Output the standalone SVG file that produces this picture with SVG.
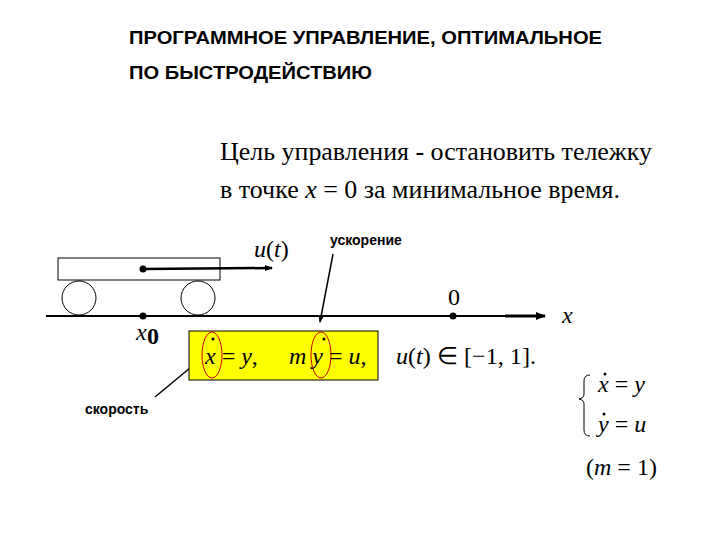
<svg xmlns="http://www.w3.org/2000/svg" width="720" height="540" viewBox="0 0 720 540">
<style>
.h{font-family:"Liberation Sans",Arial,sans-serif;font-weight:bold;font-size:18px}
.s{font-family:"Liberation Sans",Arial,sans-serif;font-weight:bold;font-size:14px}
.t{font-family:"Liberation Serif","Times New Roman",serif;font-size:26px}
.m{font-family:"Liberation Serif","Times New Roman",serif;font-size:24px}
.i{font-style:italic}
.ln{stroke:#000;fill:none}
</style>
<defs>
<marker id="a" markerWidth="10" markerHeight="8" refX="9" refY="4" orient="auto" markerUnits="userSpaceOnUse"><path d="M0,0 L10,4 L0,8z"/></marker>
<marker id="b" markerWidth="8" markerHeight="6" refX="7" refY="3" orient="auto" markerUnits="userSpaceOnUse"><path d="M0,0 L8,3 L0,6z"/></marker>
</defs>
<rect width="720" height="540" fill="#fff"/>
<text class="h" x="129" y="44" textLength="473" lengthAdjust="spacingAndGlyphs">ПРОГРАММНОЕ УПРАВЛЕНИЕ, ОПТИМАЛЬНОЕ</text>
<text class="h" x="129" y="79" textLength="243" lengthAdjust="spacingAndGlyphs">ПО БЫСТРОДЕЙСТВИЮ</text>
<text class="t" x="220" y="160" textLength="432" lengthAdjust="spacingAndGlyphs">Цель управления - остановить тележку</text>
<text class="t" x="220" y="198" textLength="400" lengthAdjust="spacingAndGlyphs">в точке <tspan class="i">x</tspan> = 0 за минимальное время.</text>
<g id="cart">
<rect x="58" y="258" width="162" height="22" fill="#fff" stroke="#000"/>
<circle cx="79" cy="298" r="17" fill="none" stroke="#000"/>
<circle cx="198" cy="298" r="17" fill="none" stroke="#000"/>
<circle cx="143" cy="269" r="3.5"/>
</g>
<g id="connectors">
<line class="ln" x1="143" y1="269" x2="272" y2="268" stroke-width="2.5"/>
<line class="ln" x1="262" y1="268" x2="272" y2="268" stroke-width="2" marker-end="url(#b)"/>
<line class="ln" x1="46" y1="316" x2="545" y2="316" stroke-width="2"/>
<line class="ln" x1="505" y1="316" x2="545" y2="316" stroke-width="3" marker-end="url(#a)"/>
<line class="ln" x1="333" y1="254" x2="320" y2="322" stroke-width="1.5" marker-end="url(#b)"/>
<line class="ln" x1="155" y1="397" x2="196" y2="363" stroke-width="1.5" marker-end="url(#b)"/>
</g>
<circle cx="143" cy="316" r="3.5"/>
<circle cx="453" cy="316" r="3.5"/>
<text class="m" x="254" y="257"><tspan class="i">u</tspan>(<tspan class="i">t</tspan>)</text>
<text class="s" x="330" y="245">ускорение</text>
<text class="m" x="448" y="305">0</text>
<text class="m i" x="562" y="323">x</text>
<text class="m i" x="136" y="340">x</text><text class="m" x="147" y="344" font-size="14" font-weight="bold">0</text>
<g id="eq">
<rect x="189" y="331" width="189" height="49" fill="#ffff00" stroke="#000"/>
<ellipse cx="212" cy="355" rx="10" ry="23" fill="none" stroke="#c00" stroke-width="1"/>
<ellipse cx="321" cy="355" rx="10" ry="23" fill="none" stroke="#c00" stroke-width="1"/>
<circle cx="213" cy="339" r="1.5"/><circle cx="324" cy="339" r="1.5"/>
<text class="m" x="205" y="364"><tspan class="i">x</tspan> = <tspan class="i">y</tspan>,</text>
<text class="m" x="289" y="364"><tspan class="i">m</tspan> <tspan class="i">y</tspan> = <tspan class="i">u</tspan>,</text>
</g>
<text class="m" x="396" y="364" textLength="140" lengthAdjust="spacingAndGlyphs"><tspan class="i">u</tspan>(<tspan class="i">t</tspan>) ∈ [−1,  1].</text>
<text class="s" x="85" y="414">скорость</text>
<g id="sys">
<path d="M590,375 Q584,375 584,381 L584,394 Q584,398 579,399 Q584,400 584,404 L584,430 Q584,436 590,436" class="ln"/>
<circle cx="605" cy="374" r="1.5"/><circle cx="604" cy="414" r="1.5"/>
<text class="m" x="598" y="392"><tspan class="i">x</tspan> = <tspan class="i">y</tspan></text>
<text class="m" x="598" y="432"><tspan class="i">y</tspan> = <tspan class="i">u</tspan></text>
<text class="m" x="586" y="475">(<tspan class="i">m</tspan> = 1)</text>
</g>
</svg>
